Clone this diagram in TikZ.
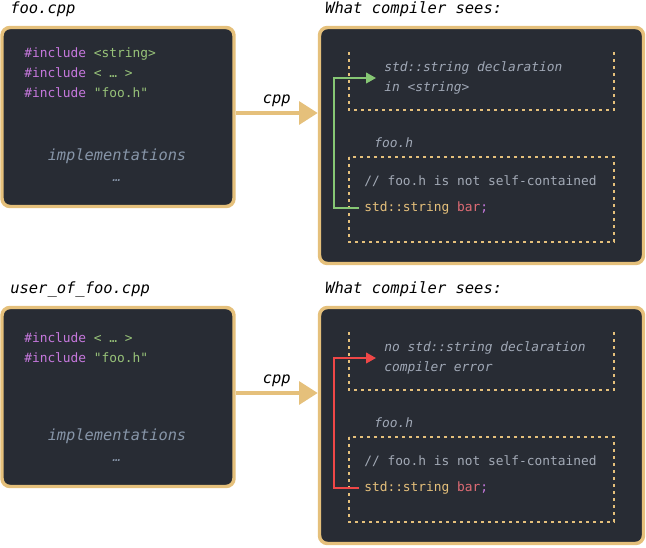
\documentclass[tikz,border=0pt]{standalone}
\usepackage{fontspec}
\setmonofont{DejaVu Sans Mono}
\usetikzlibrary{arrows.meta}
\definecolor{panel}{HTML}{282C34}
\definecolor{gold}{HTML}{E5C07B}
\definecolor{kwpink}{HTML}{C678DD}
\definecolor{strgreen}{HTML}{98C379}
\definecolor{varred}{HTML}{E06C75}
\definecolor{codegray}{HTML}{ABB2BF}
\definecolor{cmtgray}{HTML}{A3AAB6}
\definecolor{notegray}{HTML}{A0A8B6}
\definecolor{implgray}{HTML}{8795A8}
\definecolor{okgreen}{HTML}{86C774}
\definecolor{errred}{HTML}{EF4747}
\tikzset{
  panelbox/.style={draw=gold,fill=panel,line width=2.6pt,rounded corners=6pt,inner sep=0pt},
  code/.style={inner sep=0pt,anchor=base west,font=\ttfamily\fontsize{9.65}{15}\selectfont,text=codegray},
  note/.style={code,font=\ttfamily\itshape\fontsize{9.65}{15}\selectfont,text=notegray},
  title/.style={inner sep=0pt,anchor=base west,font=\ttfamily\itshape\fontsize{11.6}{14}\selectfont,text=black},
  dotbox/.style={gold,line width=1.5pt,dash pattern=on 2.25pt off 3pt},
  cpparrow/.style={gold,line width=3pt,-{Triangle[length=14pt,width=17pt]}},
  seearrow/.style={line width=1.5pt,-{Triangle[length=7.5pt,width=8pt]}}
}
\begin{document}
\begin{tikzpicture}[x=0.75pt,y=-0.75pt]
\useasboundingbox (0,0) rectangle (646,547);
% one row per source file
\foreach \r/\o/\file/\decl/\col in {1/0/foo.cpp/{std::string declaration\\in <string>}/okgreen,
    2/280/user\_of\_foo.cpp/{no std::string declaration\\compiler error}/errred}{
  \node[title] (file\r) at (10,\o+13) {\file};
  \node[title] (sees\r) at (325,\o+13) {What compiler sees:};
  \node[panelbox,minimum width=174pt,minimum height=134.25pt] (src\r) at (118,\o+117) {};
  \node[panelbox,minimum width=243pt,minimum height=177pt] (seen\r) at (481.5,\o+145.5) {};
  \coordinate (cpp\r) at ([yshift=3pt]src\r.east);
  \draw[cpparrow] (cpp\r) -- (cpp\r -| seen\r.west)
    node[title,midway,anchor=south,above=3.5pt] {cpp};
  \node[note,anchor=base,font=\ttfamily\itshape\fontsize{11.5}{14}\selectfont,text=implgray] (impl\r) at (117,\o+160) {implementations};
  \node[note,anchor=base,text=implgray] (more\r) at (117,\o+181) {…};
  \draw[dotbox] (349,\o+52) |- (614,\o+110) -- (614,\o+52);
  \draw[dotbox] (349,\o+157) rectangle (614,\o+242);
  \node[note] (hdr\r) at (374,\o+147) {foo.h};
  \node[code,text=cmtgray] (cmt\r) at (364,\o+185.5) {// foo.h is not self-contained};
  \node[code] (bar\r) at (364,\o+211.5) {\textcolor{gold}{std::string} \textcolor{varred}{bar}\textcolor{kwpink}{;}};
  \node[note,anchor=west,align=left] (decl\r) at (384,\o+78) {\decl};
  \draw[seearrow,\col] ([xshift=-3.75pt]bar\r.west) -- ++(-25,0) |- ([xshift=-6pt]decl\r.west);
}
% includes
\node[code] (inc1a) at (24,57) {\textcolor{kwpink}{\#include} \textcolor{strgreen}{<string>}};
\node[code] (inc1b) at (24,77) {\textcolor{kwpink}{\#include} \textcolor{strgreen}{< … >}};
\node[code] (inc1c) at (24,97) {\textcolor{kwpink}{\#include} \textcolor{strgreen}{"foo.h"}};
\node[code] (inc2a) at (24,342) {\textcolor{kwpink}{\#include} \textcolor{strgreen}{< … >}};
\node[code] (inc2b) at (24,362) {\textcolor{kwpink}{\#include} \textcolor{strgreen}{"foo.h"}};
\end{tikzpicture}
\end{document}
